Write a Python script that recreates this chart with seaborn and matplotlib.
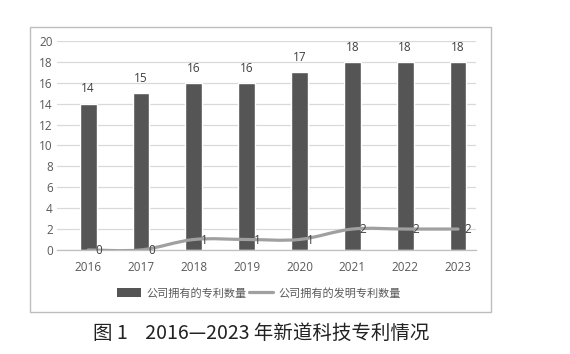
import numpy as np
import pandas as pd
import seaborn as sns
import matplotlib
matplotlib.use("Agg")
import matplotlib.pyplot as plt
from matplotlib.path import Path
from matplotlib.patches import PathPatch, Rectangle, Patch
from matplotlib.lines import Line2D

years = ["2016", "2017", "2018", "2019", "2020", "2021", "2022", "2023"]
patents = [14, 15, 16, 16, 17, 18, 18, 18]
inventions = [0, 0, 1, 1, 1, 2, 2, 2]
bar_label = "公司拥有的专利数量"
line_label = "公司拥有的发明专利数量"
caption = "图 1    2016—2023 年新道科技专利情况"
yticks = [0, 2, 4, 6, 8, 10, 12, 14, 16, 18, 20]

sns.set_theme(style="white")
plt.rcParams['font.family'] = ['Noto Sans CJK SC', 'DejaVu Sans']

fig = plt.figure(figsize=(5.7, 3.54), dpi=100)
ax = fig.add_axes([0.1, 0.294, 0.735, 0.59])

df = pd.DataFrame({"year": years, "patents": patents, "inventions": inventions})
sns.barplot(data=df, x="year", y="patents", color="#555555", width=0.32,
            saturation=1, ax=ax, zorder=2)

# smoothed line (Catmull-Rom style bezier, like spreadsheet smoothing)
xs = np.arange(len(years), dtype=float)
ys = np.array(inventions, dtype=float)
verts = [(xs[0], ys[0])]
codes = [Path.MOVETO]
n = len(xs)
for i in range(n - 1):
    p0 = np.array([xs[max(i - 1, 0)], ys[max(i - 1, 0)]])
    p1 = np.array([xs[i], ys[i]])
    p2 = np.array([xs[i + 1], ys[i + 1]])
    p3 = np.array([xs[min(i + 2, n - 1)], ys[min(i + 2, n - 1)]])
    c1 = p1 + (p2 - p0) / 6.0
    c2 = p2 - (p3 - p1) / 6.0
    verts += [tuple(c1), tuple(c2), tuple(p2)]
    codes += [Path.CURVE4] * 3
ax.add_patch(PathPatch(Path(verts, codes), facecolor="none", edgecolor="#a0a0a0",
                       lw=2.3, zorder=3, capstyle="round"))

num_font = ["Open Sans", "DejaVu Sans"]
for i, v in enumerate(patents):
    ax.annotate(str(v), (i, v), xytext=(0, 6), textcoords="offset points",
                ha="center", va="bottom", fontsize=8.5, color="#404040",
                family=num_font)
for i, v in enumerate(inventions):
    ax.annotate(str(v), (i, v), xytext=(5, -0.5), textcoords="offset points",
                ha="left", va="center", fontsize=8.5, color="#404040",
                family=num_font, zorder=4)

ax.set_xlim(-0.59, 7.34)
ax.set_ylim(0, 20)
ax.set_yticks(yticks)
ax.yaxis.grid(True, color="#d9d9d9", lw=0.9, zorder=0)
ax.set_axisbelow(True)
ax.set_xlabel("")
ax.set_ylabel("")
for s in ["top", "right", "left"]:
    ax.spines[s].set_visible(False)
ax.spines["bottom"].set_color("#bfbfbf")
ax.spines["bottom"].set_linewidth(0.9)
ax.tick_params(axis="both", length=0, labelsize=8.5, labelcolor="#595959")
ax.tick_params(axis="y", pad=3)
ax.tick_params(axis="x", pad=8)
for lab in ax.get_xticklabels() + ax.get_yticklabels():
    lab.set_family(num_font)

handles = [Patch(facecolor="#555555", edgecolor="none"),
           Line2D([0], [0], color="#a0a0a0", lw=2.3)]
fig.legend(handles, [bar_label, line_label], loc="center",
           bbox_to_anchor=(259 / 570, 1 - 293 / 354), ncol=2, frameon=False,
           fontsize=8, labelcolor="#595959", handlelength=2.1, handleheight=0.8,
           columnspacing=0.25, handletextpad=0.5)

fig.patches.append(Rectangle((30 / 570, 1 - 312 / 354), 461 / 570, 285 / 354,
                             transform=fig.transFigure, fill=False,
                             edgecolor="#bdbdbd", lw=1.0))

fig.text(261 / 570, 1 - 333 / 354, caption, ha="center", va="center",
         fontsize=14, color="#222222")

fig.savefig("out.png", dpi=100, facecolor="white")
